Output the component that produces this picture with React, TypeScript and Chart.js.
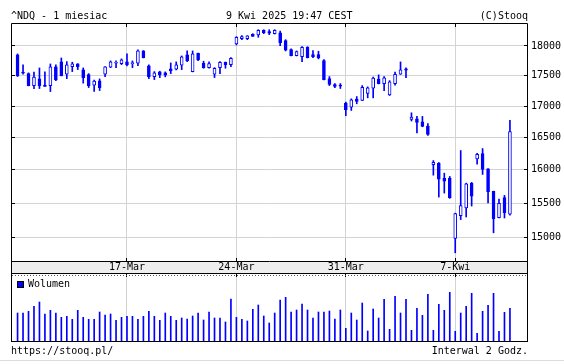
import React, { useEffect, useRef } from 'react';
import { Chart, registerables } from 'chart.js';

Chart.register(...registerables);

// 2-hour candles, 10 Mar – 9 Apr 2025 (index = session number)
const open = [
  17847, 17545, 17533, 17335, 17445, 17342, 17335, 17645, 17729, 17523,
  17650, 17695, 17595, 17517, 17342, 17412, 17523, 17640, 17707, 17700,
  17729, 17700, 17707, 17915, 17662, 17484, 17562, 17545, 17612, 17607,
  17674, 17847, 17567, 17876, 17707, 17633, 17523, 17633, 17724, 17684,
  18034, 18125, 18125, 18201, 18189, 18270, 18246, 18211, 18228, 18091,
  17937, 17835, 17818, 17978, 17852, 17852, 17751, 17450, 17352, 17345,
  17049, 16984, 17113, 17093, 17208, 17292, 17443, 17368, 17183, 17368,
  17523, 17612, 16786, 16797, 16749, 16681, 16078, 16102, 15871, 15871,
  14992, 15320, 15431, 15796, 16169, 16251, 16017, 15676, 15291, 15583,
  15339,
];
const high = [
  17864, 17679, 17545, 17557, 17628, 17562, 17695, 17679, 17796, 17734,
  17724, 17700, 17628, 17533, 17424, 17445, 17650, 17746, 17746, 17780,
  17864, 17746, 17932, 17920, 17679, 17567, 17573, 17562, 17712, 17729,
  17830, 17915, 17915, 17880, 17741, 17729, 17633, 17734, 17728, 17801,
  18159, 18177, 18177, 18211, 18280, 18280, 18280, 18280, 18258, 18108,
  17950, 17915, 17988, 17988, 17920, 17910, 17768, 17484, 17368, 17368,
  17065, 17118, 17155, 17335, 17314, 17476, 17512, 17484, 17417, 17557,
  17729, 17628, 16892, 16834, 16834, 16718, 16143, 16113, 15950, 15901,
  15355, 16297, 15800, 15811, 16255, 16328, 16020, 15680, 15563, 15617,
  16770,
];
const low = [
  17484, 17523, 17330, 17286, 17286, 17319, 17237, 17417, 17495, 17450,
  17567, 17600, 17375, 17302, 17237, 17253, 17484, 17633, 17633, 17684,
  17662, 17633, 17667, 17796, 17450, 17434, 17467, 17479, 17533, 17595,
  17600, 17734, 17562, 17751, 17623, 17623, 17467, 17533, 17623, 17650,
  18017, 18108, 18108, 18166, 18149, 18211, 18194, 18205, 18005, 17915,
  17830, 17830, 17734, 17796, 17801, 17780, 17430, 17335, 17302, 17286,
  16845, 16930, 17037, 17090, 17134, 17134, 17362, 17253, 17172, 17342,
  17520, 17467, 16761, 16571, 16670, 16534, 15920, 15592, 15651, 15573,
  14788, 15262, 15300, 15460, 16087, 15931, 15504, 15071, 15285, 15285,
  15325,
];
const close = [
  17495, 17540, 17335, 17474, 17335, 17319, 17645, 17429, 17500, 17679,
  17695, 17650, 17467, 17335, 17408, 17302, 17645, 17729, 17717, 17763,
  17679, 17712, 17915, 17801, 17484, 17545, 17512, 17507, 17578, 17679,
  17813, 17751, 17864, 17763, 17633, 17700, 17623, 17724, 17684, 17791,
  18149, 18159, 18172, 18166, 18270, 18228, 18218, 18270, 18056, 17927,
  17835, 17903, 17978, 17801, 17818, 17796, 17434, 17355, 17319, 17325,
  16941, 17102, 17074, 17306, 17297, 17459, 17368, 17462, 17396, 17523,
  17595, 17590, 16824, 16738, 16675, 16549, 16117, 15860, 15830, 15583,
  15349, 15466, 15791, 15607, 16240, 16006, 15672, 15277, 15499, 15364,
  16592,
];
// relative volume units
const volume = [
  280, 280, 297, 347, 390, 270, 307, 280, 237, 247,
  217, 307, 237, 217, 217, 290, 260, 270, 207, 237,
  247, 247, 217, 247, 297, 247, 207, 280, 247, 207,
  230, 220, 250, 280, 210, 290, 230, 230, 190, 420,
  237, 217, 200, 317, 360, 250, 180, 280, 410, 437,
  290, 310, 370, 310, 230, 290, 290, 300, 220, 310,
  127, 280, 210, 380, 100, 320, 230, 417, 117, 447,
  280, 417, 107, 327, 257, 467, 107, 367, 307, 487,
  97, 280, 347, 477, 77, 297, 357, 477, 97, 287,
  327,
];

const tickIndex = [20, 40, 60, 80];
const tickLabels = ['17-Mar', '24-Mar', '31-Mar', '7-Kwi'];
const priceTicks = [15000, 15500, 16000, 16500, 17000, 17500, 18000];

const BLUE = '#0000ff';
const GRID = '#d3d3d3';
const FAMILY = 'DejaVu Sans Mono';
const FONT = { family: FAMILY, size: 10 };
const X_MIN = -1.2;
const X_MAX = 93.3;
const P_MIN = 14673;
const P_MAX = 18397;
const VOL_MAX = 680;

const al = (p: number) => Math.round(p - 0.5) + 0.5;

const priceFrame = {
  id: 'priceFrame',
  beforeDraw(chart: any) {
    const { ctx, chartArea: a } = chart;
    ctx.save();
    ctx.fillStyle = '#eeeeee';
    ctx.fillRect(a.left, a.bottom, a.right - a.left, 12);
    ctx.restore();
  },
  afterDraw(chart: any) {
    const { ctx, chartArea: a, scales } = chart;
    ctx.save();
    ctx.strokeStyle = '#000';
    ctx.lineWidth = 1;
    ctx.beginPath();
    ctx.rect(a.left + 0.5, a.top + 0.5, a.right - a.left - 1, a.bottom - a.top);
    ctx.moveTo(a.left, a.bottom + 12.5);
    ctx.lineTo(a.right, a.bottom + 12.5);
    ctx.moveTo(a.left + 0.5, a.bottom);
    ctx.lineTo(a.left + 0.5, a.bottom + 13);
    ctx.moveTo(a.right - 0.5, a.bottom);
    ctx.lineTo(a.right - 0.5, a.bottom + 13);
    tickIndex.forEach((v) => {
      const px = al(scales.x.getPixelForValue(v));
      ctx.moveTo(px, a.top);
      ctx.lineTo(px, a.top + 4);
      ctx.moveTo(px, a.bottom - 3);
      ctx.lineTo(px, a.bottom);
    });
    priceTicks.forEach((v) => {
      const py = al(scales.y.getPixelForValue(v));
      ctx.moveTo(a.left, py);
      ctx.lineTo(a.left + 4, py);
      ctx.moveTo(a.right - 4, py);
      ctx.lineTo(a.right, py);
    });
    ctx.stroke();
    ctx.restore();
  },
};

const volFrame = {
  id: 'volFrame',
  afterDraw(chart: any) {
    const { ctx, chartArea: a, scales } = chart;
    ctx.save();
    ctx.strokeStyle = '#000';
    ctx.lineWidth = 1;
    ctx.strokeRect(a.left + 0.5, a.top + 0.5, a.right - a.left - 1, a.bottom - a.top);
    // short ticks below the date band
    ctx.beginPath();
    tickIndex.forEach((v) => {
      const px = al(scales.x.getPixelForValue(v));
      ctx.moveTo(px, a.top);
      ctx.lineTo(px, a.top + 4);
    });
    ctx.stroke();
    // dotted line under the date band
    ctx.beginPath();
    ctx.strokeStyle = '#555';
    ctx.setLineDash([1, 2]);
    ctx.moveTo(a.left + 1, a.top + 2.5);
    ctx.lineTo(a.right - 1, a.top + 2.5);
    ctx.stroke();
    ctx.setLineDash([]);
    ctx.strokeStyle = '#000';
    // legend entry for the volume dataset
    const ds = chart.data.datasets[0];
    const bx = a.left + 6;
    const by = a.top + 8;
    ctx.fillStyle = ds.backgroundColor;
    ctx.fillRect(bx, by, 7, 7);
    ctx.strokeRect(bx + 0.5, by + 0.5, 6, 6);
    ctx.fillStyle = '#000';
    ctx.font = `10px "${FAMILY}"`;
    ctx.textBaseline = 'middle';
    ctx.textAlign = 'left';
    ctx.fillText(ds.label, bx + 11, by + 3.5);
    ctx.restore();
  },
};

const textStyle: React.CSSProperties = {
  position: 'absolute',
  fontFamily: FAMILY,
  fontSize: 10,
  lineHeight: '12px',
  whiteSpace: 'pre',
  color: '#000',
};

export default function App() {
  const priceRef = useRef<HTMLCanvasElement>(null);
  const volRef = useRef<HTMLCanvasElement>(null);

  useEffect(() => {
    const idx = open.map((_, i) => i);
    const xTicks = (s: any) => {
      s.ticks = tickIndex.map((v) => ({ value: v }));
    };

    const price = new Chart(priceRef.current as HTMLCanvasElement, {
      type: 'bar',
      data: {
        datasets: [
          {
            label: 'body',
            data: idx.map((i) => ({ x: i, y: [open[i], close[i]] })) as any,
            backgroundColor: idx.map((i) => (close[i] >= open[i] ? '#ffffff' : BLUE)),
            borderColor: BLUE,
            borderWidth: 1,
            borderSkipped: false,
            barThickness: 3,
            minBarLength: 1,
            grouped: false,
          } as any,
          {
            label: 'wick',
            data: idx.map((i) => ({ x: i, y: [low[i], high[i]] })) as any,
            backgroundColor: BLUE,
            borderWidth: 0,
            barThickness: 1,
            grouped: false,
          } as any,
        ],
      },
      options: {
        responsive: false,
        animation: false,
        events: [],
        devicePixelRatio: 1,
        layout: { padding: { top: 23, left: 11, right: 0, bottom: 91 } },
        plugins: { legend: { display: false }, tooltip: { enabled: false } },
        scales: {
          x: {
            type: 'linear',
            position: 'bottom',
            offset: false,
            min: X_MIN,
            max: X_MAX,
            afterBuildTicks: xTicks,
            afterFit: (s: any) => {
              s.height = 12;
            },
            ticks: {
              autoSkip: false,
              maxRotation: 0,
              padding: 0,
              font: FONT,
              color: '#000',
              callback: (v: any) => {
                const k = tickIndex.indexOf(Number(v));
                return k >= 0 ? tickLabels[k] : '';
              },
            },
            grid: { color: GRID, drawTicks: false, lineWidth: 1, offset: false },
            border: { display: false },
          },
          y: {
            type: 'logarithmic',
            position: 'right',
            min: P_MIN,
            max: P_MAX,
            afterBuildTicks: (s: any) => {
              s.ticks = priceTicks.map((v) => ({ value: v }));
            },
            afterFit: (s: any) => {
              s.width = 36;
            },
            ticks: {
              autoSkip: false,
              padding: 3,
              font: FONT,
              color: '#000',
              callback: (v: any) => String(v),
            },
            grid: { color: GRID, drawTicks: false, lineWidth: 1 },
            border: { display: false },
          },
        },
      } as any,
      plugins: [priceFrame],
    });

    const vol = new Chart(volRef.current as HTMLCanvasElement, {
      type: 'bar',
      data: {
        datasets: [
          {
            label: 'Wolumen',
            data: idx.map((i) => ({ x: i, y: volume[i] })) as any,
            backgroundColor: BLUE,
            borderWidth: 0,
            barThickness: 1,
            grouped: false,
          } as any,
        ],
      },
      options: {
        responsive: false,
        animation: false,
        events: [],
        devicePixelRatio: 1,
        layout: { padding: { top: 273, left: 11, right: 36, bottom: 23 } },
        plugins: { tooltip: { enabled: false }, legend: { display: false } },
        scales: {
          x: {
            type: 'linear',
            offset: false,
            min: X_MIN,
            max: X_MAX,
            afterBuildTicks: xTicks,
            afterFit: (s: any) => {
              s.height = 0;
            },
            ticks: { display: false },
            grid: { color: GRID, drawTicks: false, lineWidth: 1, offset: false },
            border: { display: false },
          },
          y: { display: false, min: 0, max: VOL_MAX },
        },
      } as any,
      plugins: [volFrame],
    });

    return () => {
      price.destroy();
      vol.destroy();
    };
  }, []);

  return (
    <div style={{ position: 'fixed', left: 0, top: 0, width: 564, height: 364, background: '#fff', overflow: 'hidden' }}>
      <canvas ref={priceRef} width={564} height={364} style={{ position: 'absolute', left: 0, top: 0 }} />
      <canvas ref={volRef} width={564} height={364} style={{ position: 'absolute', left: 0, top: 0 }} />
      <div style={{ ...textStyle, left: 11, top: 10 }}>^NDQ - 1 miesiac</div>
      <div style={{ ...textStyle, left: 226, top: 10 }}>9 Kwi 2025 19:47 CEST</div>
      <div style={{ ...textStyle, right: 36, top: 10 }}>(C)Stooq</div>
      <div style={{ ...textStyle, left: 11, top: 345 }}>https://stooq.pl/</div>
      <div style={{ ...textStyle, right: 36, top: 345 }}>Interwal 2 Godz.</div>
      <div style={{ position: 'absolute', left: 0, top: 360, width: 564, height: 1, background: '#dddddd' }} />
    </div>
  );
}
